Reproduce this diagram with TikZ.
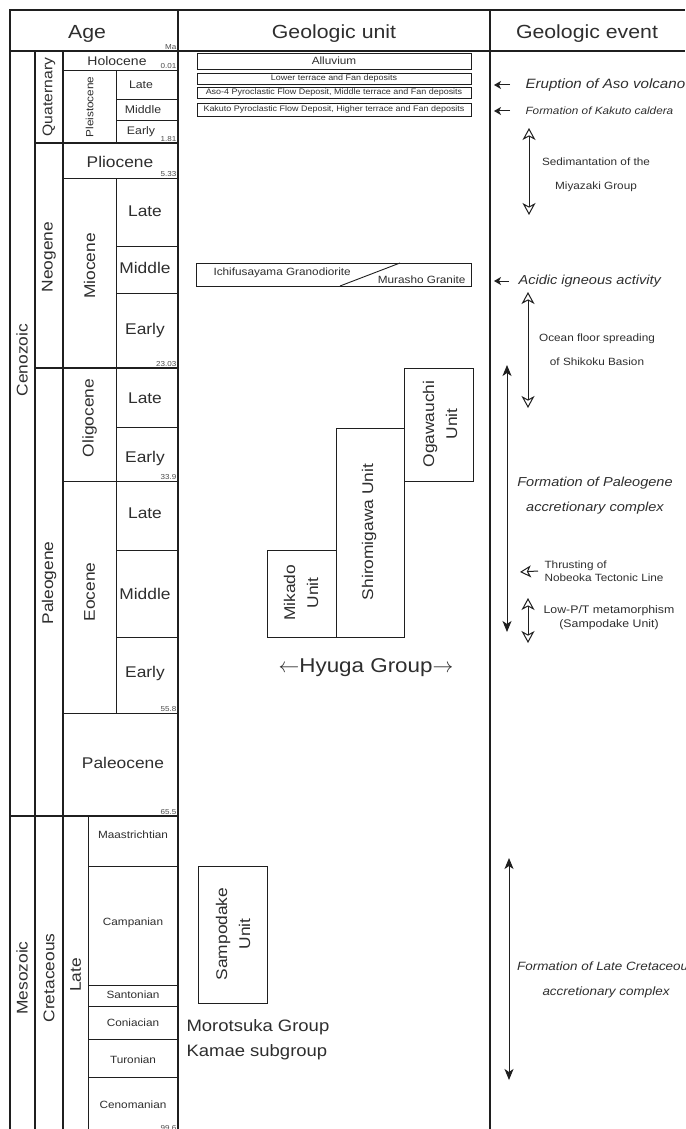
\documentclass[tikz,border=0pt]{standalone}
\usepackage{fontspec}
\setmainfont[FakeStretch=1.12]{Liberation Sans}
\usetikzlibrary{arrows.meta}
\definecolor{LineClr}{gray}{0.12}
\definecolor{TextClr}{gray}{0.18}
\definecolor{NumClr}{gray}{0.3}
\newcommand\txtsize[2]{\fontsize{#1}{#2}\selectfont}

\begin{document}
\begin{tikzpicture}[x=1pt,y=-1pt,
  every node/.style={text=TextClr},
  frame/.style={line width=1.6pt,color=LineClr},
  rule/.style={line width=0.9pt,color=LineClr},
  unitbox/.style={line width=0.9pt,color=LineClr},
  head/.style={anchor=base,font=\txtsize{19}{19}},
  vlabel/.style={rotate=90,font=\txtsize{15.5}{15.5}},
  epoch/.style={font=\txtsize{15.5}{15.5}},
  subep/.style={font=\txtsize{11}{11}},
  stage/.style={font=\txtsize{10.5}{10.5}},
  agenum/.style={anchor=south east,inner sep=0.5pt,font=\txtsize{7.2}{7.2},text=NumClr},
  deposit/.style={font=\txtsize{8}{8}},
  unitname/.style={rotate=90,align=center,font=\txtsize{15.5}{23}},
  evtext/.style={align=center,font=\txtsize{10.5}{24}},
  evbig/.style={align=center,font=\itshape\txtsize{13}{25}},
  pointer/.style={line width=1pt,color=LineClr,-{Stealth[length=7pt,width=8pt,inset=2pt]}},
  openrange/.style={line width=1pt,color=LineClr,
    {Stealth[open,length=12pt,width=13pt,inset=3.5pt]}-{Stealth[open,length=12pt,width=13pt,inset=3.5pt]}},
  solidrange/.style={line width=1pt,color=LineClr,
    {Stealth[length=11pt,width=9pt,inset=3pt]}-{Stealth[length=11pt,width=9pt,inset=3pt]}},
]
\useasboundingbox (0,0) rectangle (685,1129);

% frame and header
\draw[frame] (10,1129) -- (10,10) -- (685,10);
\draw[frame] (10,51) -- (685,51);
\draw[frame] (178,10) -- (178,1129);
\draw[frame] (490,10) -- (490,1129);

\node[head] (age) at (87,39) {Age};
\node[agenum] (ma) at (177,50) {Ma};
\node[head] (unit) at (334,39) {Geologic unit};
\node[head] (event) at (587,39) {Geologic event};

% time scale grid
\draw[frame] (35,51) -- (35,1129);
\draw[frame] (63,51) -- (63,1129);
\draw[rule] (116,70) -- (116,143) (116,178) -- (116,713);
\draw[rule] (88,816) -- (88,1129);
\draw[frame] (35,143) -- (178,143) (35,368) -- (178,368);
\draw[frame] (10,816) -- (178,816);
\foreach \y in {70,178,481,713} \draw[rule] (63,\y) -- (178,\y);
\foreach \y in {99,120,246,293,427,550,637} \draw[rule] (116,\y) -- (178,\y);
\foreach \y in {866,985,1006,1039,1077} \draw[rule] (88,\y) -- (178,\y);

\node[vlabel] (cenozoic) at (22,360) {Cenozoic};
\node[vlabel] (mesozoic) at (22,978) {Mesozoic};
\node[vlabel,font=\txtsize{14}{14}] (quaternary) at (49,97) {Quaternary};
\node[vlabel] (neogene) at (49,257) {Neogene};
\node[vlabel] (paleogene) at (49,583) {Paleogene};
\node[vlabel] (cretaceous) at (49,978) {Cretaceous};
\node[vlabel,font=\txtsize{10.5}{10.5}] (pleistocene) at (89.5,107) {Pleistocene};
\node[vlabel] (miocene) at (89.5,266) {Miocene};
\node[vlabel] (oligocene) at (89.5,418) {Oligocene};
\node[vlabel] (eocene) at (89.5,592) {Eocene};
\node[vlabel] (latecret) at (75.5,975) {Late};

\node[epoch,font=\txtsize{12.5}{12.5}] (holocene) at (117,61) {Holocene};
\node[agenum] (n001) at (177,69) {0.01};
\node[subep] (pleiL) at (141,85) {Late};
\node[subep] (pleiM) at (143,110) {Middle};
\node[subep] (pleiE) at (141,132) {Early};
\node[agenum] (n181) at (177,142) {1.81};
\node[epoch] (pliocene) at (120,162) {Pliocene};
\node[agenum] (n533) at (177,177) {5.33};
\node[epoch] (mioL) at (145,211) {Late};
\node[epoch] (mioM) at (145,268) {Middle};
\node[epoch] (mioE) at (145,330) {Early};
\node[agenum] (n2303) at (177,367) {23.03};
\node[epoch] (oliL) at (145,398) {Late};
\node[epoch] (oliE) at (145,458) {Early};
\node[agenum] (n339) at (177,480) {33.9};
\node[epoch] (eoL) at (145,513) {Late};
\node[epoch] (eoM) at (145,594) {Middle};
\node[epoch] (eoE) at (145,673) {Early};
\node[agenum] (n558) at (177,712) {55.8};
\node[epoch] (paleocene) at (123,763) {Paleocene};
\node[agenum] (n655) at (177,815) {65.5};
\node[stage] (maas) at (133,835) {Maastrichtian};
\node[stage] (camp) at (133,923) {Campanian};
\node[stage] (sant) at (133,995) {Santonian};
\node[stage] (coni) at (133,1023) {Coniacian};
\node[stage] (turo) at (133,1060) {Turonian};
\node[stage] (ceno) at (133,1105) {Cenomanian};
\node[agenum] (n996) at (177,1131.5) {99.6};

% geologic units
\draw[unitbox] (197,53) rectangle (471,69);
\draw[unitbox] (197,73) rectangle (471,84);
\draw[unitbox] (197,87) rectangle (471,98);
\draw[unitbox] (197,103) rectangle (471,116);
\node[font=\txtsize{10.5}{10.5}] (alluvium) at (334,61) {Alluvium};
\node[deposit] (lowerterr) at (334,78.5) {Lower terrace and Fan deposits};
\node[deposit] (aso) at (334,92.5) {Aso-4 Pyroclastic Flow Deposit, Middle terrace and Fan deposits};
\node[deposit] (kakutodep) at (334,109.5) {Kakuto Pyroclastic Flow Deposit, Higher terrace and Fan deposits};

\draw[unitbox] (196,263) rectangle (471,286);
\draw[unitbox] (340,286) -- (400,263);
\node[font=\txtsize{10.5}{10.5},anchor=west] (ichifu) at (210,273) {Ichifusayama Granodiorite};
\node[font=\txtsize{10.5}{10.5},anchor=east] (murasho) at (469,280) {Murasho Granite};

\draw[unitbox] (267,550) rectangle (336,637);
\draw[unitbox] (336,428) rectangle (404,637);
\draw[unitbox] (404,368) rectangle (473,481);
\node[unitname] (mikado) at (301,593) {Mikado\\Unit};
\node[unitname] (shiromi) at (369,532) {Shiromigawa Unit};
\node[unitname] (ogawa) at (440,424) {Ogawauchi\\Unit};
\node[font=\txtsize{20}{20}] (hyuga) at (366,668) {$\leftarrow$Hyuga Group$\rightarrow$};

\draw[unitbox] (198,866) rectangle (267,1003);
\node[unitname] (sampo) at (233,934) {Sampodake\\Unit};
\node[font=\txtsize{16.5}{25},align=left,anchor=north west] (morotsuka) at (183,1016) {Morotsuka Group\\Kamae subgroup};

% geologic events
\node[evbig,anchor=west,font=\itshape\txtsize{13.5}{13.5}] (aso4) at (522,85) {Eruption of Aso volcano};
\node[evtext,anchor=west,font=\itshape\txtsize{10.5}{10.5}] (kakuto) at (522,111) {Formation of Kakuto caldera};
\node[evbig,anchor=west] (acidic) at (515,281) {Acidic igneous activity};
\coordinate (asoTip) at (494,85);
\coordinate (kakutoTip) at (494,111);
\coordinate (acidicTip) at (494,281);
\draw[pointer] ([xshift=-12pt]aso4.west) -- (asoTip);
\draw[pointer] ([xshift=-12pt]kakuto.west) -- (kakutoTip);
\draw[pointer] ([xshift=-6pt]acidic.west) -- (acidicTip);

\node[evtext] (miyazaki) at (596,175) {Sedimantation of the\\Miyazaki Group};
\draw[openrange] (529,128) -- (529,215);

\node[evtext] (shikoku) at (597,349.5) {Ocean floor spreading\\of Shikoku Basion};
\draw[openrange] (528,292) -- (528,408);

\node[evbig] (paleoacc) at (595,495.5) {\itshape Formation of Paleogene\\\itshape accretionary complex};
\draw[solidrange] (507,365) -- (507,632);

\node[evtext,anchor=west,align=left,font=\txtsize{10.5}{13.5}] (nobeoka) at (541,571) {Thrusting of\\Nobeoka Tectonic Line};
\coordinate (nobeokaTip) at (520,572);
\draw[line width=1pt,color=LineClr,-{Stealth[open,length=11pt,width=12pt,inset=3pt]}] ([xshift=-3pt]nobeoka.west) -- (nobeokaTip);

\node[evtext,font=\txtsize{11}{14}] (lowpt) at (609,618) {Low-P/T metamorphism\\(Sampodake Unit)};
\draw[openrange] (528,598) -- (528,643);

\node[evtext,font=\itshape\txtsize{12}{25}] (cretacc) at (606,979.5) {Formation of Late Cretaceous\\accretionary complex};
\draw[solidrange] (509,858) -- (509,1080);
\end{tikzpicture}
\end{document}
